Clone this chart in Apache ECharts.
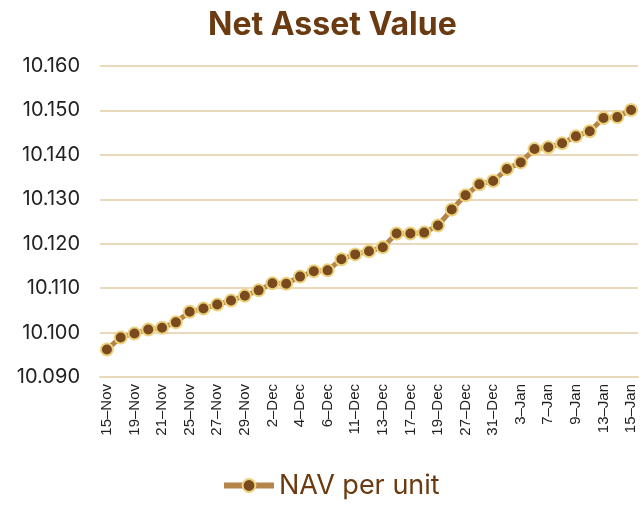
<!DOCTYPE html>
<html>
<head>
<meta charset="utf-8">
<script src="https://cdn.jsdelivr.net/npm/echarts@6/dist/echarts.min.js"></script>
<style>
  html, body { margin: 0; padding: 0; background: #fff; }
  #chart { width: 642px; height: 506px; }
</style>
</head>
<body>
<div id="chart"></div>
<script>
const dates = [
  "15–Nov", "18–Nov", "19–Nov", "20–Nov", "21–Nov", "22–Nov", "25–Nov", "26–Nov",
  "27–Nov", "28–Nov", "29–Nov", "1–Dec", "2–Dec", "3–Dec", "4–Dec", "5–Dec",
  "6–Dec", "9–Dec", "11–Dec", "12–Dec", "13–Dec", "16–Dec", "17–Dec", "18–Dec",
  "19–Dec", "20–Dec", "27–Dec", "30–Dec", "31–Dec", "2–Jan", "3–Jan", "6–Jan",
  "7–Jan", "8–Jan", "9–Jan", "10–Jan", "13–Jan", "14–Jan", "15–Jan"
];
const nav = [
  10.0962, 10.0989, 10.0998, 10.1007, 10.1011, 10.1023, 10.1047, 10.1054,
  10.1063, 10.1072, 10.1083, 10.1095, 10.1111, 10.1110, 10.1126, 10.1138,
  10.1140, 10.1165, 10.1176, 10.1183, 10.1192, 10.1223, 10.1223, 10.1225,
  10.1241, 10.1277, 10.1309, 10.1334, 10.1341, 10.1368, 10.1383, 10.1413,
  10.1417, 10.1426, 10.1442, 10.1453, 10.1483, 10.1485, 10.1501
];
const seriesName = "NAV per unit";

const chart = echarts.init(document.getElementById("chart"));
chart.setOption({
  animation: false,
  title: {
    text: "Net Asset Value",
    left: 203,
    top: 4,
    textStyle: {
      fontFamily: "Inter",
      fontWeight: 700,
      fontSize: 32,
      color: "#6b3a10",
    },
  },
  legend: {
    bottom: 2,
    left: 216,
    itemWidth: 50,
    itemHeight: 16,
    itemGap: 14,
    lineStyle: { width: 6 },
    textStyle: {
      fontFamily: "Inter",
      fontSize: 27,
      color: "#6b3a10",
    },
    data: [seriesName],
  },
  grid: {
    left: 100,
    right: 4,
    top: 66,
    bottom: 129,
  },
  xAxis: {
    type: "category",
    data: dates,
    boundaryGap: true,
    axisTick: { show: false },
    axisLine: {
      lineStyle: { color: "#ead8bc", width: 2 },
    },
    axisLabel: {
      interval: 1,
      rotate: 90,
      margin: 7,
      fontFamily: "Liberation Sans",
      fontSize: 15,
      color: "#222",
    },
  },
  yAxis: {
    type: "value",
    min: 10.09,
    max: 10.16,
    interval: 0.01,
    axisLine: { show: false },
    axisTick: { show: false },
    axisLabel: {
      margin: 20,
      fontFamily: "Inter",
      fontSize: 20,
      color: "#222",
      formatter: (v) => v.toFixed(3),
    },
    splitLine: {
      lineStyle: { color: "#ead8bc", width: 2 },
    },
  },
  series: [
    {
      name: seriesName,
      type: "line",
      data: nav,
      symbol: "circle",
      symbolSize: 12,
      showAllSymbol: true,
      lineStyle: { color: "#b5844a", width: 5 },
      itemStyle: {
        color: "#7a4a1f",
        borderColor: "#ecd27c",
        borderWidth: 2,
      },
    },
  ],
});
</script>
</body>
</html>
